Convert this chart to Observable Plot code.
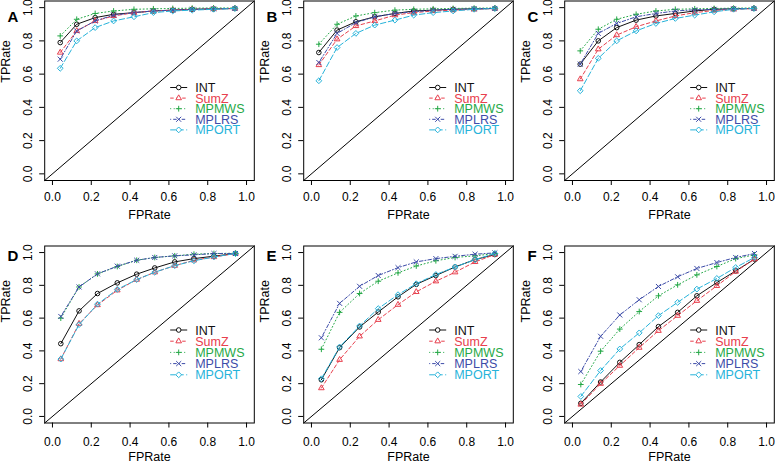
<!DOCTYPE html>
<html><head><meta charset="utf-8">
<script src="https://cdn.jsdelivr.net/npm/d3@7"></script>
<script src="https://cdn.jsdelivr.net/npm/@observablehq/plot@0.6"></script>
<style>
html,body{margin:0;padding:0;background:#fff;}
#chart{position:relative;width:775px;height:466px;overflow:hidden;background:#fff;font-family:"Liberation Sans",Arial,sans-serif;}
#chart svg{position:absolute;overflow:visible;}
</style></head><body><div id="chart"></div>
<script>
// ---- series definitions ----
const seriesNames = ["INT", "SumZ", "MPMWS", "MPLRS", "MPORT"];
const seriesColors = ["#111111", "#E8404E", "#25A847", "#3D4CA8", "#27B3DA"];
const seriesDashes = ["none", "3.5,2.5", "1,2.5", "1,2,3.5,2", "5.5,2.5"];
const seriesSymbols = ["circle", "triangle2", "plus", "times", "diamond2"];
const seriesRadii = [2.3, 2.7, 2.0, 2.4, 2.6];
const panelIds = ["A", "B", "C", "D", "E", "F"];
const axisTicks = [0, 0.2, 0.4, 0.6, 0.8, 1.0];
const axisDomain = [-0.04, 1.04];

// ---- panel A ----
const fprA = [0.04, 0.125, 0.22, 0.315, 0.42, 0.52, 0.62, 0.72, 0.83, 0.94];
const intA = [0.79, 0.90, 0.94, 0.96, 0.97, 0.98, 0.985, 0.99, 0.992, 0.995];
const sumzA = [0.73, 0.86, 0.92, 0.95, 0.97, 0.98, 0.985, 0.99, 0.993, 0.995];
const mpmwsA = [0.83, 0.93, 0.965, 0.98, 0.99, 0.993, 0.995, 0.997, 0.998, 0.998];
const mplrsA = [0.69, 0.86, 0.92, 0.955, 0.97, 0.98, 0.985, 0.99, 0.993, 0.995];
const mportA = [0.635, 0.80, 0.88, 0.92, 0.945, 0.97, 0.98, 0.985, 0.99, 0.995];
// ---- panel B ----
const fprB = [0.038, 0.132, 0.229, 0.326, 0.43, 0.527, 0.627, 0.73, 0.838, 0.945];
const intB = [0.73, 0.865, 0.915, 0.945, 0.965, 0.98, 0.985, 0.99, 0.993, 0.995];
const sumzB = [0.655, 0.81, 0.89, 0.92, 0.955, 0.97, 0.98, 0.985, 0.99, 0.995];
const mpmwsB = [0.78, 0.90, 0.95, 0.97, 0.985, 0.99, 0.993, 0.995, 0.997, 0.998];
const mplrsB = [0.67, 0.845, 0.91, 0.945, 0.965, 0.975, 0.985, 0.99, 0.993, 0.995];
const mportB = [0.56, 0.76, 0.845, 0.895, 0.925, 0.955, 0.97, 0.98, 0.99, 0.995];
// ---- panel C ----
const fprC = [0.04, 0.133, 0.228, 0.328, 0.43, 0.53, 0.63, 0.73, 0.83, 0.935];
const intC = [0.66, 0.80, 0.88, 0.925, 0.95, 0.965, 0.98, 0.99, 0.993, 0.995];
const sumzC = [0.57, 0.75, 0.835, 0.885, 0.92, 0.95, 0.97, 0.983, 0.99, 0.995];
const mpmwsC = [0.74, 0.87, 0.93, 0.96, 0.98, 0.99, 0.993, 0.995, 0.997, 0.998];
const mplrsC = [0.66, 0.845, 0.905, 0.945, 0.965, 0.98, 0.987, 0.99, 0.993, 0.995];
const mportC = [0.50, 0.695, 0.80, 0.86, 0.905, 0.935, 0.955, 0.975, 0.99, 0.995];
// ---- panel D ----
const fprD = [0.043, 0.137, 0.232, 0.334, 0.434, 0.527, 0.63, 0.729, 0.832, 0.943];
const intD = [0.444, 0.644, 0.75, 0.815, 0.868, 0.906, 0.943, 0.963, 0.978, 0.994];
const sumzD = [0.35, 0.566, 0.68, 0.77, 0.835, 0.88, 0.92, 0.953, 0.973, 0.994];
const mpmwsD = [0.60, 0.79, 0.87, 0.915, 0.953, 0.97, 0.98, 0.99, 0.994, 0.996];
const mplrsD = [0.61, 0.79, 0.87, 0.917, 0.953, 0.97, 0.98, 0.986, 0.994, 0.994];
const mportD = [0.35, 0.56, 0.685, 0.775, 0.835, 0.88, 0.92, 0.95, 0.973, 0.994];
// ---- panel E ----
const fprE = [0.051, 0.145, 0.248, 0.344, 0.446, 0.54, 0.641, 0.74, 0.843, 0.945];
const intE = [0.224, 0.42, 0.546, 0.637, 0.73, 0.806, 0.86, 0.912, 0.957, 0.988];
const sumzE = [0.173, 0.346, 0.489, 0.59, 0.682, 0.76, 0.825, 0.88, 0.943, 0.988];
const mpmwsE = [0.41, 0.635, 0.75, 0.825, 0.876, 0.918, 0.95, 0.97, 0.98, 0.994];
const mplrsE = [0.48, 0.69, 0.794, 0.86, 0.908, 0.943, 0.963, 0.977, 0.99, 0.998];
const mportE = [0.23, 0.424, 0.552, 0.658, 0.743, 0.81, 0.866, 0.912, 0.957, 0.994];
// ---- panel F ----
const fprF = [0.043, 0.145, 0.244, 0.344, 0.443, 0.542, 0.641, 0.744, 0.841, 0.938];
const intF = [0.08, 0.21, 0.33, 0.438, 0.548, 0.635, 0.736, 0.817, 0.888, 0.96];
const sumzF = [0.073, 0.2, 0.31, 0.42, 0.523, 0.615, 0.706, 0.797, 0.884, 0.96];
const mpmwsF = [0.195, 0.398, 0.533, 0.64, 0.736, 0.803, 0.864, 0.915, 0.963, 0.986];
const mplrsF = [0.274, 0.489, 0.619, 0.712, 0.793, 0.852, 0.903, 0.939, 0.97, 0.994];
const mportF = [0.122, 0.28, 0.412, 0.51, 0.615, 0.696, 0.777, 0.842, 0.909, 0.97];

const panels = [
  {fpr: fprA, tpr: [intA, sumzA, mpmwsA, mplrsA, mportA]},
  {fpr: fprB, tpr: [intB, sumzB, mpmwsB, mplrsB, mportB]},
  {fpr: fprC, tpr: [intC, sumzC, mpmwsC, mplrsC, mportC]},
  {fpr: fprD, tpr: [intD, sumzD, mpmwsD, mplrsD, mportD]},
  {fpr: fprE, tpr: [intE, sumzE, mpmwsE, mplrsE, mportE]},
  {fpr: fprF, tpr: [intF, sumzF, mpmwsF, mplrsF, mportF]}
];

const d3Symbols = {circle: d3.symbolCircle, triangle2: d3.symbolTriangle2, plus: d3.symbolPlus, times: d3.symbolTimes, diamond2: d3.symbolDiamond2};
const fmt = d3.format(".1f");
const chart = document.getElementById("chart");

function legendMark(firstRow, rowStep) {
  return (index, scales, values, dims) => {
    const g = d3.create("svg:g");
    const x0 = dims.marginLeft + 126;
    seriesNames.forEach((name, i) => {
      const y = dims.marginTop + firstRow + i * rowStep;
      g.append("line").attr("x1", x0).attr("x2", x0 + 17).attr("y1", y).attr("y2", y)
        .attr("stroke", seriesColors[i]).attr("stroke-width", 1)
        .attr("stroke-dasharray", seriesDashes[i] === "none" ? null : seriesDashes[i]);
      const r = seriesRadii[i];
      g.append("path").attr("transform", `translate(${x0 + 8.5},${y})`)
        .attr("d", d3.symbol(d3Symbols[seriesSymbols[i]], r * r * Math.PI)())
        .attr("fill", "white").attr("stroke", seriesColors[i]).attr("stroke-width", 1);
      g.append("text").attr("x", x0 + 25).attr("y", y).attr("dy", "0.36em")
        .attr("text-anchor", "start")
        .attr("fill", seriesColors[i]).attr("font-size", 12.5).text(name);
    });
    return g.node();
  };
}

panels.forEach((p, k) => {
  const row = Math.floor(k / 3), col = k % 3;
  const top = row === 0;
  const colLeft = [0, 259, 520][col];
  const width = col === 2 ? 255 : 258;
  const height = 233;
  const mL = 44.2, mR = width - 253.8;
  const mT = top ? 0.5 : 12.5, mB = top ? 53 : 43.5;
  const marks = [
    Plot.frame({stroke: "black", strokeWidth: 1}),
    Plot.line(axisDomain, {x: d => d, y: d => d, stroke: "black", strokeWidth: 1}),
    Plot.axisX({ticks: axisTicks, tickSize: 5, tickPadding: top ? 7 : 9, tickFormat: fmt, fontSize: 12, label: null}),
    Plot.axisY({ticks: axisTicks, tickSize: 5, tickFormat: () => "", label: null}),
    Plot.text(axisTicks, {y: d => d, text: d => fmt(d), frameAnchor: "left", dx: -17, rotate: -90, textAnchor: "middle", lineAnchor: "middle", fontSize: 12}),
    Plot.text(["FPRate"], {text: d => d, frameAnchor: "bottom", dy: 38, fontSize: 12.5}),
    Plot.text(["TPRate"], {text: d => d, frameAnchor: "left", dx: -38.4, dy: top ? -8 : -12, rotate: -90, fontSize: 12.5}),
    Plot.text([panelIds[k]], {text: d => d, frameAnchor: "top-left", dx: 7 - mL, dy: (top ? 10.5 : 17) - mT, fontWeight: "bold", fontSize: 15})
  ];
  seriesNames.forEach((name, i) => {
    const data = p.fpr.map((x, j) => ({x, y: p.tpr[i][j]}));
    marks.push(Plot.line(data, {x: "x", y: "y", stroke: seriesColors[i], strokeWidth: 1,
      strokeDasharray: seriesDashes[i] === "none" ? undefined : seriesDashes[i]}));
    marks.push(Plot.dot(data, {x: "x", y: "y", symbol: seriesSymbols[i], r: seriesRadii[i],
      stroke: seriesColors[i], fill: "none", strokeWidth: 1}));
  });
  marks.push(legendMark(top ? 87 : 84.5, top ? 10.6 : 11.2));
  const svg = Plot.plot({
    width, height, marginLeft: mL, marginRight: mR, marginTop: mT, marginBottom: mB,
    x: {domain: axisDomain, axis: null},
    y: {domain: axisDomain, axis: null},
    style: {fontFamily: '"Liberation Sans", Arial, sans-serif', fontSize: "12px", color: "black", background: "transparent"},
    marks
  });
  svg.style.left = colLeft + "px";
  svg.style.top = (top ? 0 : 233) + "px";
  chart.appendChild(svg);
});
</script></body></html>
